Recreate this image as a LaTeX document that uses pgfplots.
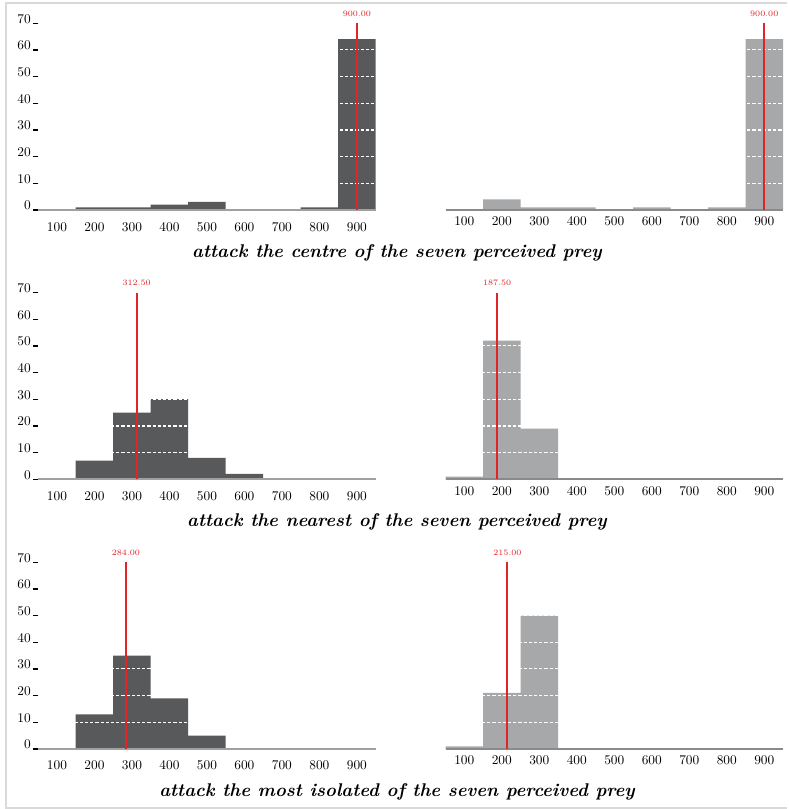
\documentclass[border=0pt]{standalone}
\usepackage{pgfplots}
\pgfplotsset{compat=1.18}
\definecolor{darkbar}{HTML}{58595B}
\definecolor{lightbar}{HTML}{A7A8AA}
\definecolor{redline}{RGB}{226,35,40}
\definecolor{framegray}{HTML}{D9D9D9}
\definecolor{axl}{HTML}{A0A0A0}
\definecolor{axr}{HTML}{8A8A8A}
\tikzset{
  redlab/.style={text=redline, font=\fontsize{6.2}{7}\selectfont, anchor=base, yshift=5pt, inner sep=0pt},
  title/.style={anchor=base, font=\fontsize{13.8}{16}\selectfont\bfseries\itshape},
}
\pgfplotsset{
  set layers,
  hist/.style={
    scale only axis, width=253.1pt, height=140.1pt,
    xmin=50, xmax=950, ymin=0, ymax=70,
    axis on top, clip=false,
    axis x line*=bottom, axis y line*=left,
    y axis line style={draw=none},
    xtick={100,200,...,900},
    ytick={0,10,...,70},
    xtick style={draw=none},
    ymajorgrids,
    major grid style={white, line width=0.9pt, dash pattern=on 2.4pt off 1.5pt},
    ticklabel style={font=\fontsize{10}{12}\selectfont},
    xticklabel style={yshift=-1.9pt},
    anchor=south west,
  },
  lefthist/.style={hist, x axis line style={color=axl, line width=1.5pt, -},
    ytick style={black, line width=1pt}, major tick length=3.9pt, tick align=outside,
    yticklabel style={anchor=base east, inner sep=0pt, xshift=-1.5pt}},
  righthist/.style={hist, x axis line style={color=axr, line width=1.5pt, -},
    yticklabels={}, ytick style={draw=none}},
  redl/.style={redline, line width=1.5pt, on layer=axis foreground},
}
\begin{document}
\begin{tikzpicture}
\path (0,0) rectangle (590.25pt,-606.75pt);
\draw[framegray, line width=1.6pt] (590.25pt,-2.25pt) -- (4.65pt,-2.25pt) -- (4.65pt,-606pt) -- (590.25pt,-606pt);

% Row 1
\begin{axis}[lefthist, at={(28.65pt,-157.5pt)}]
\addplot[ybar interval, fill=darkbar, draw=none] coordinates {(50,0) (150,1) (250,1) (350,2) (450,3) (550,0) (650,0) (750,1) (850,64) (950,0)};
\addplot[redl] coordinates {(900,0) (900,70)};
\node[redlab] at (axis cs:900,70) {900.00};
\end{axis}
\begin{axis}[righthist, at={(334.2pt,-157.5pt)}]
\addplot[ybar interval, fill=lightbar, draw=none] coordinates {(50,0) (150,4) (250,1) (350,1) (450,0) (550,1) (650,0) (750,1) (850,64) (950,0)};
\addplot[redl] coordinates {(900,0) (900,70)};
\node[redlab] at (axis cs:900,70) {900.00};
\end{axis}
\node[title] at (297.75pt,-193.5pt) {attack the centre of the seven perceived prey};

% Row 2
\begin{axis}[lefthist, at={(28.65pt,-359.5pt)}]
\addplot[ybar interval, fill=darkbar, draw=none] coordinates {(50,0) (150,7) (250,25) (350,30) (450,8) (550,2) (650,0) (750,0) (850,0) (950,0)};
\addplot[redl] coordinates {(312.5,0) (312.5,70)};
\node[redlab] at (axis cs:312.5,70) {312.50};
\end{axis}
\begin{axis}[righthist, at={(334.2pt,-359.5pt)}]
\addplot[ybar interval, fill=lightbar, draw=none] coordinates {(50,1) (150,52) (250,19) (350,0) (450,0) (550,0) (650,0) (750,0) (850,0) (950,0)};
\addplot[redl] coordinates {(187.5,0) (187.5,70)};
\node[redlab] at (axis cs:187.5,70) {187.50};
\end{axis}
\node[title] at (297.75pt,-395.25pt) {attack the nearest of the seven perceived prey};

% Row 3
\begin{axis}[lefthist, at={(28.65pt,-561.75pt)}]
\addplot[ybar interval, fill=darkbar, draw=none] coordinates {(50,0) (150,13) (250,35) (350,19) (450,5) (550,0) (650,0) (750,0) (850,0) (950,0)};
\addplot[redl] coordinates {(284,0) (284,70)};
\node[redlab] at (axis cs:284,70) {284.00};
\end{axis}
\begin{axis}[righthist, at={(334.2pt,-561.75pt)}]
\addplot[ybar interval, fill=lightbar, draw=none] coordinates {(50,1) (150,21) (250,50) (350,0) (450,0) (550,0) (650,0) (750,0) (850,0) (950,0)};
\addplot[redl] coordinates {(215,0) (215,70)};
\node[redlab] at (axis cs:215,70) {215.00};
\end{axis}
\node[title] at (297.75pt,-597.75pt) {attack the most isolated of the seven perceived prey};
\end{tikzpicture}
\end{document}
